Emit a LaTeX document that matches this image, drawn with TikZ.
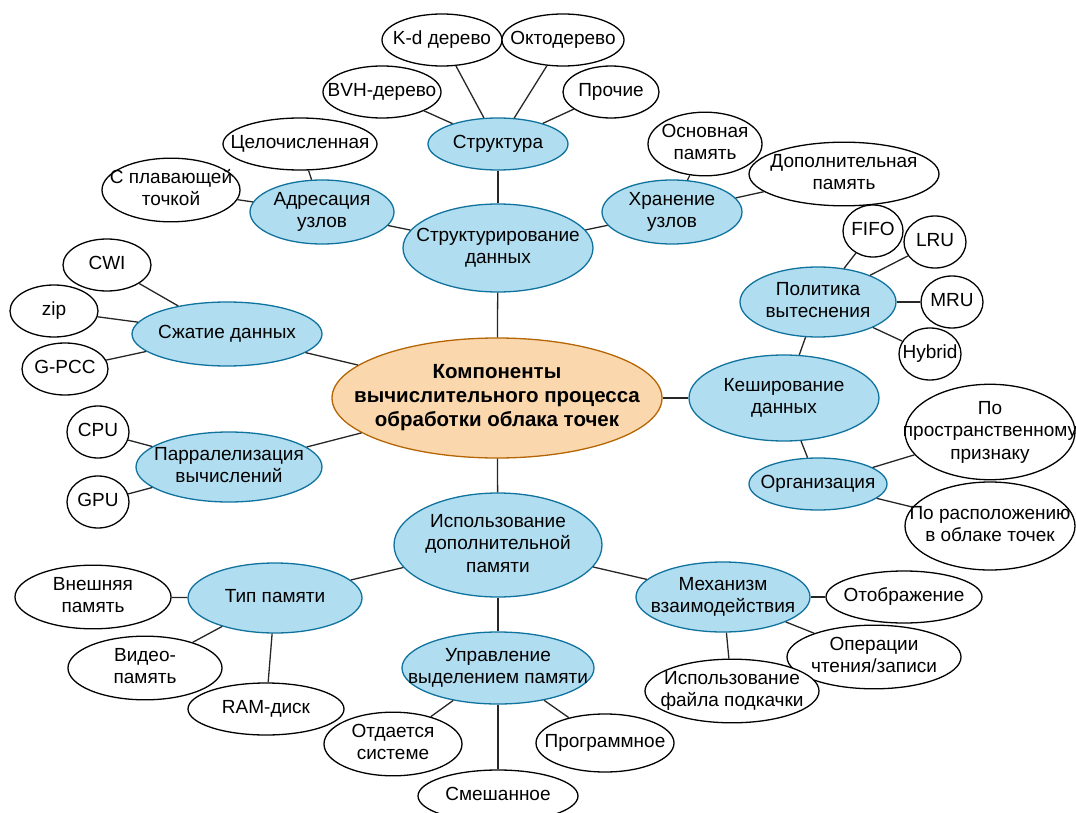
\documentclass[tikz,border=0pt]{standalone}
\usepackage{fontspec}
\setmainfont{Liberation Sans}
\usetikzlibrary{shapes.geometric}
\definecolor{blfill}{HTML}{B1DDF0}
\definecolor{bldraw}{HTML}{10739E}
\definecolor{orfill}{HTML}{FAD7AC}
\definecolor{ordraw}{HTML}{B46504}
\newcommand\ctext[1]{\makebox[0pt]{\begin{tabular}{@{}c@{}}#1\end{tabular}}}

\begin{document}
\begin{tikzpicture}[
  x=1pt, y=-1pt,
  every node/.style={font=\fontsize{19}{22.5}\selectfont},
  sz/.style 2 args={minimum width=#1, minimum height=#2},
  el/.style={ellipse, draw, line width=1.3pt, inner sep=0pt},
  leaf/.style={el, draw=black, fill=white},
  topic/.style={el, draw=bldraw, fill=blfill},
  root/.style={el, draw=ordraw, fill=orfill, font=\fontsize{20.5}{24}\selectfont\bfseries},
  link/.style={line width=1.3pt, draw=black!85}
]
\useasboundingbox (0,0) rectangle (1076,813);

\node[root, sz={330}{120}] (root) at (497,398) {\ctext{Компоненты\\вычислительного процесса\\обработки облака точек}};

\node[topic, sz={190}{88}] (sd) at (498,248) {\ctext{Структурирование\\данных}};
\node[topic, sz={140}{52}] (str) at (498,144) {\ctext{Структура}};
\node[leaf, sz={120}{52}] (kd) at (442,40) {\ctext{K-d дерево}};
\node[leaf, sz={122}{52}] (okt) at (563,40) {\ctext{Октодерево}};
\node[leaf, sz={118}{52}] (bvh) at (382,92) {\ctext{BVH-дерево}};
\node[leaf, sz={96}{52}] (pro) at (611,92) {\ctext{Прочие}};
\node[topic, sz={144}{64}] (adr) at (322,212) {\ctext{Адресация\\узлов}};
\node[leaf, sz={154}{52}] (cel) at (300,144) {\ctext{Целочисленная}};
\node[leaf, sz={138}{52}] (flt) at (171,190) {\ctext{С плавающей\\точкой}};
\node[topic, sz={140}{64}] (hran) at (672,212) {\ctext{Хранение\\узлов}};
\node[leaf, sz={114}{52}] (osn) at (705,144) {\ctext{Основная\\память}};
\node[leaf, sz={190}{52}] (dop) at (844,174) {\ctext{Дополнительная\\память}};

\node[topic, sz={190}{64}] (szh) at (227,334) {\ctext{Сжатие данных}};
\node[leaf, sz={88}{52}] (cwi) at (107,265) {\ctext{CWI}};
\node[leaf, sz={88}{52}] (zip) at (54,311) {\ctext{zip}};
\node[leaf, sz={86}{52}] (gpcc) at (65,369) {\ctext{G-PCC}};

\node[topic, sz={186}{70}] (par) at (229,467) {\ctext{Парралелизация\\вычислений}};
\node[leaf, sz={62}{52}] (cpu) at (98,432) {\ctext{CPU}};
\node[leaf, sz={62}{52}] (gpu) at (98,502) {\ctext{GPU}};

\node[topic, sz={190}{86}] (kesh) at (784,398) {\ctext{Кеширование\\данных}};
\node[topic, sz={156}{70}] (pol) at (818,302) {\ctext{Политика\\вытеснения}};
\node[leaf, sz={60}{52}] (fifo) at (873,231) {\ctext{FIFO}};
\node[leaf, sz={62}{52}] (lru) at (935,242) {\ctext{LRU}};
\node[leaf, sz={62}{52}] (mru) at (952,302) {\ctext{MRU}};
\node[leaf, sz={62}{52}] (hyb) at (930,354) {\ctext{Hybrid}};
\node[topic, sz={138}{52}] (org) at (818,484) {\ctext{Организация}};
\node[leaf, sz={170}{86}] (pspace) at (990,432) {\ctext{По\\пространственному\\признаку}};
\node[leaf, sz={170}{88}] (ploc) at (990,526) {\ctext{По расположению\\в облаке точек}};

\node[topic, sz={208}{104}] (isp) at (498,545) {\ctext{Использование\\дополнительной\\памяти}};
\node[topic, sz={174}{70}] (tip) at (275,598) {\ctext{Тип памяти}};
\node[leaf, sz={156}{52}] (ext) at (93,597) {\ctext{Внешняя\\память}};
\node[leaf, sz={154}{52}] (vid) at (145,668) {\ctext{Видео-\\память}};
\node[leaf, sz={156}{52}] (ram) at (266,709) {\ctext{RAM-диск}};
\node[topic, sz={192}{72}] (upr) at (498,668) {\ctext{Управление\\выделением памяти}};
\node[leaf, sz={138}{54}] (otd) at (393,744) {\ctext{Отдается\\системе}};
\node[leaf, sz={160}{52}] (sme) at (498,796) {\ctext{Смешанное}};
\node[leaf, sz={138}{58}] (prg) at (605,743) {\ctext{Программное}};
\node[topic, sz={174}{70}] (mex) at (723,597) {\ctext{Механизм\\взаимодействия}};
\node[leaf, sz={156}{52}] (otb) at (904,597) {\ctext{Отображение}};
\node[leaf, sz={174}{52}] (ops) at (874,657) {\ctext{Операции\\чтения/записи}};
\node[leaf, sz={174}{52}] (fil) at (732,691) {\ctext{Использование\\файла подкачки}};

\draw[link] (root) -- (sd);
\draw[link] (root) -- (szh);
\draw[link] (root) -- (par);
\draw[link] (root) -- (kesh);
\draw[link] (root) -- (isp);
\draw[link] (sd) -- (str);
\draw[link] (sd) -- (adr);
\draw[link] (sd) -- (hran);
\draw[link] (str) -- (bvh);
\draw[link] (str) -- (kd);
\draw[link] (str) -- (okt);
\draw[link] (str) -- (pro);
\draw[link] (adr) -- (cel);
\draw[link] (adr) -- (flt);
\draw[link] (hran) -- (osn);
\draw[link] (hran) -- (dop);
\draw[link] (szh) -- (cwi);
\draw[link] (szh) -- (zip);
\draw[link] (szh) -- (gpcc);
\draw[link] (par) -- (cpu);
\draw[link] (par) -- (gpu);
\draw[link] (kesh) -- (pol);
\draw[link] (kesh) -- (org);
\draw[link] (pol) -- (fifo);
\draw[link] (pol) -- (lru);
\draw[link] (pol) -- (mru);
\draw[link] (pol) -- (hyb);
\draw[link] (org) -- (pspace);
\draw[link] (org) -- (ploc);
\draw[link] (isp) -- (tip);
\draw[link] (isp) -- (upr);
\draw[link] (isp) -- (mex);
\draw[link] (tip) -- (ext);
\draw[link] (tip) -- (vid);
\draw[link] (tip) -- (ram);
\draw[link] (upr) -- (otd);
\draw[link] (upr) -- (sme);
\draw[link] (upr) -- (prg);
\draw[link] (mex) -- (otb);
\draw[link] (mex) -- (ops);
\draw[link] (mex) -- (fil);
\end{tikzpicture}
\end{document}
